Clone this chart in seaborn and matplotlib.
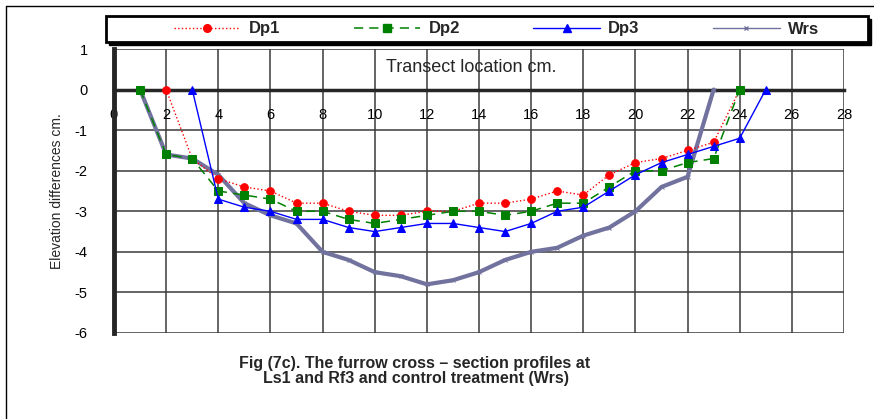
import seaborn as sns
import matplotlib.pyplot as plt
from matplotlib.patches import Rectangle
from matplotlib.lines import Line2D

# Dados
x_dp1 = list(range(2, 25))
dp1 = [0, -1.7, -2.2, -2.4, -2.5, -2.8, -2.8, -3.0, -3.1, -3.1, -3.0, -3.0,
       -2.8, -2.8, -2.7, -2.5, -2.6, -2.1, -1.8, -1.7, -1.5, -1.3, 0]
x_dp2 = list(range(1, 25))
dp2 = [0, -1.6, -1.7, -2.5, -2.6, -2.7, -3.0, -3.0, -3.2, -3.3, -3.2, -3.1,
       -3.0, -3.0, -3.1, -3.0, -2.8, -2.8, -2.4, -2.0, -2.0, -1.8, -1.7, 0]
x_dp3 = list(range(3, 26))
dp3 = [0, -2.7, -2.9, -3.0, -3.2, -3.2, -3.4, -3.5, -3.4, -3.3, -3.3, -3.4,
       -3.5, -3.3, -3.0, -2.9, -2.5, -2.1, -1.8, -1.6, -1.4, -1.2, 0]
x_wrs = list(range(1, 24))
wrs = [0, -1.6, -1.7, -2.1, -2.8, -3.1, -3.3, -4.0, -4.2, -4.5, -4.6, -4.8,
       -4.7, -4.5, -4.2, -4.0, -3.9, -3.6, -3.4, -3.0, -2.4, -2.15, 0]

x_ticks = list(range(0, 29, 2))
y_ticks = list(range(-6, 2))

sns.set_style('white')
plt.rcParams['font.family'] = ['Liberation Sans', 'DejaVu Sans']

fig = plt.figure(figsize=(8.74, 4.19), dpi=100)
ax = fig.add_axes([114 / 874, 1 - 333 / 419, 730 / 874, 284 / 419])

wrs_cor = '#72729E'

# Series
sns.lineplot(x=x_wrs, y=wrs, ax=ax, color=wrs_cor, linewidth=3,
             marker='x', markersize=3, markeredgecolor=wrs_cor,
             estimator=None, sort=False, zorder=3)
sns.lineplot(x=x_dp1, y=dp1, ax=ax, color='red', linewidth=1, linestyle=':',
             marker='o', markersize=5.5, markeredgecolor='red',
             estimator=None, sort=False, zorder=4)
sns.lineplot(x=x_dp2, y=dp2, ax=ax, color='green', linewidth=1.1,
             linestyle=(0, (6, 4)), marker='s', markersize=5.5,
             markeredgecolor='green', estimator=None, sort=False, zorder=4)
sns.lineplot(x=x_dp3, y=dp3, ax=ax, color='blue', linewidth=1,
             marker='^', markersize=5.5, markeredgecolor='blue',
             estimator=None, sort=False, zorder=4)

# Eixos
ax.set_xlim(0, 28)
ax.set_ylim(-6, 1)
ax.set_xticks(x_ticks)
ax.set_yticks(y_ticks)
ax.set_xticklabels([str(t) for t in x_ticks])
ax.set_yticklabels([str(t) for t in y_ticks])
ax.grid(True, color='#3a3a3a', linewidth=1.1)
ax.set_axisbelow(True)

for s in ['top', 'right']:
    ax.spines[s].set_visible(False)
ax.spines['bottom'].set_position(('data', 0))
ax.spines['bottom'].set_linewidth(2.5)
ax.spines['bottom'].set_zorder(2.5)
ax.spines['left'].set_linewidth(3.5)
ax.tick_params(axis='x', direction='inout', length=5, width=2,
               pad=11, labelsize=10.5, colors='black')
ax.tick_params(axis='y', direction='inout', length=6, width=2,
               pad=16, labelsize=10.5, colors='black')

ax.set_xlabel('')
ax.set_ylabel('Elevation differences cm.', fontsize=10)
ax.yaxis.set_label_coords(-0.068, 0.5)
ax.text(13.7, 0.54, 'Transect location cm.', fontsize=13,
        ha='center', va='center')

# Legenda com caixa e sombra
lx0, ly0, lw, lh = 106 / 874, 1 - 42 / 419, 762 / 874, 26 / 419
fig.add_artist(Rectangle((lx0 + 3 / 874, ly0 - 3 / 419), lw, lh,
                         transform=fig.transFigure, facecolor='black',
                         edgecolor='black', zorder=1))
fig.add_artist(Rectangle((lx0, ly0), lw, lh, transform=fig.transFigure,
                         facecolor='white', edgecolor='black',
                         linewidth=2, zorder=2))
handles = [
    Line2D([], [], color='red', lw=1, ls=':', marker='o', ms=5.5),
    Line2D([], [], color='green', lw=1.1, ls=(0, (6, 4)), marker='s', ms=5.5),
    Line2D([], [], color='blue', lw=1, marker='^', ms=5.5),
    Line2D([], [], color=wrs_cor, lw=1, marker='x', ms=3),
]
labels = ['Dp1', 'Dp2', 'Dp3', 'Wrs']
leg = fig.legend(handles, labels,
                 loc='center', bbox_to_anchor=(0.568, 1 - 29 / 419),
                 ncol=4, frameon=False, handlelength=4.0, handletextpad=0.5,
                 columnspacing=4.4, prop={'weight': 'bold', 'size': 12})
leg.set_zorder(3)

# Legenda da figura
fig.text(415 / 874, 1 - 363 / 419,
         'Fig (7c). The furrow cross \u2013 section profiles at',
         ha='center', va='center', fontsize=11.5, fontweight='bold')
fig.text(416 / 874, 1 - 378 / 419,
         'Ls1 and Rf3 and control treatment (Wrs)',
         ha='center', va='center', fontsize=11.5, fontweight='bold')

# Moldura (esquerda e topo)
fig.add_artist(Line2D([6 / 874, 6 / 874], [0, 1 - 6 / 419],
                      transform=fig.transFigure, color='black', linewidth=1))
fig.add_artist(Line2D([6 / 874, 1], [1 - 6 / 419, 1 - 6 / 419],
                      transform=fig.transFigure, color='black', linewidth=1))

plt.savefig('out.png', dpi=100)
